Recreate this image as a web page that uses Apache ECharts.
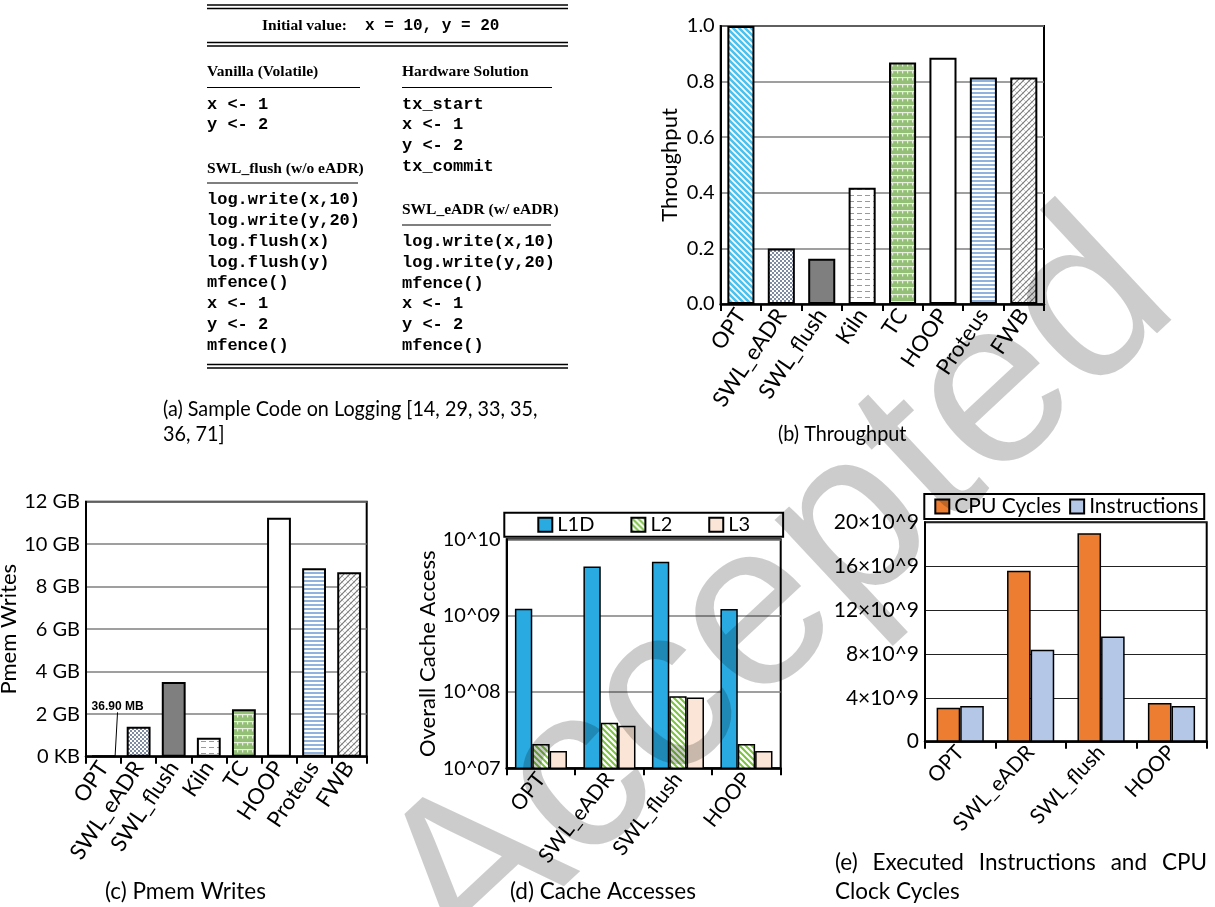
<!DOCTYPE html>
<html><head><meta charset="utf-8">
<script src="https://cdn.jsdelivr.net/npm/echarts@6/dist/echarts.min.js"></script>
<style>html,body{margin:0;padding:0;background:#fff}#c{width:1215px;height:907px}</style>
</head><body><div id="c"></div><script>
// ---------- data ----------
const systems = ['OPT','SWL_eADR','SWL_flush','Kiln','TC','HOOP','Proteus','FWB'];
const throughput = [1.0, 0.20, 0.163, 0.418, 0.869, 0.886, 0.815, 0.815];
const pmemWritesGB = [0.036, 1.41, 3.51, 0.89, 2.23, 11.25, 8.87, 8.68];
const pmemOptLabel = '36.90 MB';
const cacheCats = ['OPT','SWL_eADR','SWL_flush','HOOP'];
const l1dAccess = [1.23e9, 4.41e9, 5.08e9, 1.22e9];
const l2Access = [2.08e7, 3.95e7, 8.8e7, 2.08e7];
const l3Access = [1.68e7, 3.6e7, 8.47e7, 1.68e7];
const cpuCategories = ['OPT','SWL_eADR','SWL_flush','HOOP'];
const cpuCycles = [3.1, 15.59, 19.0, 3.53];      // x10^9
const instructions = [3.25, 8.39, 9.6, 3.25];    // x10^9

// sample code panel text
const headerLabel = 'Initial value:';
const headerCode = 'x = 10, y = 20';
const vanillaTitle = 'Vanilla (Volatile)';
const vanillaCode = ['x <- 1','y <- 2'];
const hwTitle = 'Hardware Solution';
const hwCode = ['tx_start','x <- 1','y <- 2','tx_commit'];
const flushTitle = 'SWL_flush (w/o eADR)';
const flushCode = ['log.write(x,10)','log.write(y,20)','log.flush(x)','log.flush(y)','mfence()','x <- 1','y <- 2','mfence()'];
const eadrTitle = 'SWL_eADR (w/ eADR)';
const eadrCode = ['log.write(x,10)','log.write(y,20)','mfence()','x <- 1','y <- 2','mfence()'];
const captions = {
  a1: '(a) Sample Code on Logging [14, 29, 33, 35,', a2: '36, 71]',
  b: '(b) Throughput', c: '(c) Pmem Writes', d: '(d) Cache Accesses',
  e1: '(e) Executed Instructions and CPU', e2: 'Clock Cycles'
};
const watermark = 'Accepted';

// ---------- patterns ----------
function pat(w, h, draw){ const c=document.createElement('canvas'); c.width=w; c.height=h; const x=c.getContext('2d'); draw(x,w,h); return {image:c, repeat:'repeat'}; }
function diag(ctx, w, color, lw, back){
  ctx.strokeStyle=color; ctx.lineWidth=lw; ctx.beginPath();
  for (let k=-1;k<=1;k++){
    if(back){ ctx.moveTo(k*w-1,-1); ctx.lineTo(k*w+w+1,w+1); }
    else { ctx.moveTo(k*w-1,w+1); ctx.lineTo(k*w+w+1,-1); }
  }
  ctx.stroke();
}
const P = {
  opt: pat(6,6,(c,w)=>{c.fillStyle='#4CC1EE';c.fillRect(0,0,w,w);diag(c,w,'#fff',1.6,true);}),
  eadr: pat(4,4,(c)=>{c.fillStyle='#fff';c.fillRect(0,0,4,4);c.fillStyle='#7D8BA3';c.fillRect(0,0,2,2);c.fillRect(2,2,2,2);}),
  flush: '#7F7F7F',
  kiln: pat(8,6,(c)=>{c.fillStyle='#fff';c.fillRect(0,0,8,6);c.fillStyle='#9a9a9a';c.fillRect(1,3,5,1);}),
  tc: pat(10,7,(c)=>{c.fillStyle='#93C076';c.fillRect(0,0,10,7);c.fillStyle='#E6F0DC';c.fillRect(0,0,10,1.2);c.fillRect(2,0,1.2,3.5);c.fillRect(7,0,1.2,3.5);}),
  hoop: '#ffffff',
  proteus: pat(4,4,(c)=>{c.fillStyle='#fff';c.fillRect(0,0,4,4);c.fillStyle='#8DB3DE';c.fillRect(0,0,4,2);}),
  fwb: pat(6,6,(c,w)=>{c.fillStyle='#fff';c.fillRect(0,0,w,w);diag(c,w,'#c4c4c4',0.8,true);diag(c,w,'#777',1.1,false);}),
  l2: pat(6,6,(c,w)=>{c.fillStyle='#fff';c.fillRect(0,0,w,w);diag(c,w,'#7DC243',2,true);})
};
const sysFill = [P.opt,P.eadr,P.flush,P.kiln,P.tc,P.hoop,P.proteus,P.fwb];

// ---------- shared styles ----------
const F = 'Lato';
const lab = (size)=>({color:'#000', fontFamily:F, fontSize:size});
function xAx(gi, data, rot, fs){
  return {type:'category', gridIndex:gi, data,
    axisLine:{lineStyle:{color:'#000', width:2.5}},
    axisTick:{show:true, length:7, lineStyle:{color:'#000', width:2}},
    axisLabel:Object.assign({rotate:rot, margin:7, interval:0}, lab(fs))};
}
function yAx(gi, extra){
  return Object.assign({type:'value', gridIndex:gi,
    axisLine:{show:true, lineStyle:{color:'#000', width:2}},
    axisTick:{show:false},
    splitLine:{lineStyle:{color:'#7f7f7f', width:1.5}},
    nameLocation:'middle', nameTextStyle:lab(22)}, extra);
}
const gridBase = {show:true, borderColor:'#000', borderWidth:2, backgroundColor:'transparent', containLabel:false, outerBoundsMode:'none'};

// ---------- graphic: sample code panel & captions ----------
const G = [];
function hline(x1,x2,y,lw){ G.push({type:'line', shape:{x1,y1:y,x2,y2:y}, style:{stroke:'#000', lineWidth:lw||1.3}}); }
function txt(s,x,y,font,extra){ G.push(Object.assign({type:'text', x, y, style:Object.assign({text:s, font, fill:'#000', textAlign:'left', textVerticalAlign:'middle', verticalAlign:'middle'}, (extra&&extra.style)||{})}, (extra&&extra.el)||{})); }
const serifB = 'bold 15.5px "Liberation Serif"';
const mono = 'bold 17px "Liberation Mono"';
hline(207,568,5); hline(207,568,8.5);
txt(headerLabel,262,26,serifB); txt(headerCode,365,26,'bold 16px "Liberation Mono"');
hline(207,568,42.5); hline(207,568,46);
txt(vanillaTitle,207,71.5,serifB); hline(207,360,87.5,1.2);
txt(hwTitle,402,71.5,serifB); hline(402,552,87.5,1.2);
vanillaCode.forEach((s,i)=>txt(s,207,104.3+i*20.8,mono));
hwCode.forEach((s,i)=>txt(s,402,104.3+i*20.8,mono));
txt(flushTitle,207,168.5,serifB); hline(207,358,183,1.2);
flushCode.forEach((s,i)=>txt(s,207,200+i*20.8,mono));
txt(eadrTitle,402,210,serifB); hline(402,551,225,1.2);
eadrCode.forEach((s,i)=>txt(s,402,241.7+i*20.8,mono));
hline(207,568,364.5); hline(207,568,368);
const capTop = '22px Lato';
txt(captions.a1,163,409,capTop,{el:{scaleX:0.9}});
txt(captions.a2,163,434,capTop,{el:{scaleX:0.9}});
txt(captions.b,778,434,capTop,{el:{scaleX:0.9}});
const capBot = '22.5px Lato';
txt(captions.c,105,892,capBot);
txt(captions.d,510,892,capBot);
// justified first line of caption (e)
(function(){
  const ctx = document.createElement('canvas').getContext('2d'); ctx.font = capBot;
  const words = captions.e1.split(' '); const x0 = 835, x1 = 1207;
  const ws = words.map(w=>ctx.measureText(w).width); const tot = ws.reduce((a,b)=>a+b,0);
  const gap = (x1-x0-tot)/(words.length-1); let x = x0;
  words.forEach((w,i)=>{ txt(w,x,863,capBot); x += ws[i]+gap; });
})();
txt(captions.e2,835,892,capBot);
// watermark
G.push({type:'text', x:780, y:596, rotation:43*Math.PI/180, z:100, silent:true,
  style:{text:watermark, font:'235px "Liberation Sans"', fill:'rgba(0,0,0,0.2)', textAlign:'center', textVerticalAlign:'middle', verticalAlign:'middle'}});

// ---------- option ----------
const option = {
  animation:false,
  backgroundColor:'#fff',
  grid:[
    Object.assign({left:720.7, top:26, width:323.3, height:278}, gridBase),
    Object.assign({left:86, top:501.7, width:280.7, height:255}, gridBase),
    Object.assign({left:506.7, top:539.3, width:274, height:229}, gridBase),
    Object.assign({left:925, top:522.3, width:281.7, height:219.4}, gridBase)
  ],
  legend:[
    {data:['L1D','L2','L3'], left:504.3, top:512.7, padding:[2,33], itemGap:36, itemWidth:14, itemHeight:14,
     borderColor:'#000', borderWidth:2, borderRadius:0, textStyle:lab(20), icon:'rect', selectedMode:false},
    {data:['CPU Cycles','Instructions'], left:924.3, top:494, padding:[2,6,2,10], itemGap:8, itemWidth:14, itemHeight:14,
     borderColor:'#000', borderWidth:2, borderRadius:0, textStyle:lab(21), icon:'rect', selectedMode:false}
  ],
  xAxis:[ xAx(0, systems, 56, 22), xAx(1, systems, 56, 22), xAx(2, cacheCats, 52, 21), xAx(3, cpuCategories, 47, 21) ],
  yAxis:[
    yAx(0, {min:0, max:1, interval:0.2, name:'Throughput', nameGap:40,
      axisLabel:Object.assign({formatter:v=>v.toFixed(1), margin:6}, lab(20))}),
    yAx(1, {min:0, max:12, interval:2, name:'Pmem Writes', nameGap:60,
      axisLabel:Object.assign({formatter:v=>v===0?'0 KB':v+' GB', margin:6}, lab(20))}),
    yAx(2, {type:'log', logBase:10, min:1e7, max:1e10, name:'Overall Cache Access', nameGap:64,
      axisLabel:Object.assign({formatter:v=>'10^'+String(Math.round(Math.log10(v))).padStart(2,'0'), margin:6}, lab(20))}),
    yAx(3, {min:0, max:20, interval:4, splitLine:{lineStyle:{color:'#222', width:1}},
      axisLabel:Object.assign({formatter:v=>v===0?'0':v+'×10^9', margin:6}, lab(21))})
  ],
  series:[
    {type:'bar', name:'Throughput', xAxisIndex:0, yAxisIndex:0, barCategoryGap:'33%',
     itemStyle:{borderColor:'#000', borderWidth:2},
     data:throughput.map((v,i)=>({value:v, itemStyle:{color:sysFill[i]}}))},
    {type:'bar', name:'Pmem Writes', xAxisIndex:1, yAxisIndex:1, barCategoryGap:'32%',
     itemStyle:{borderColor:'#000', borderWidth:2},
     labelLayout:(p)=>p.dataIndex===0?{dx:14, dy:-38}:{},
     labelLine:{show:true, lineStyle:{color:'#000', width:1}},
     data:pmemWritesGB.map((v,i)=>({value:v, itemStyle:{color:sysFill[i]},
       label: i===0 ? {show:true, position:'top', formatter:pmemOptLabel, color:'#000', fontFamily:'Liberation Sans', fontWeight:'bold', fontSize:12} : {show:false}}))},
    {type:'bar', name:'L1D', xAxisIndex:2, yAxisIndex:2, barGap:'0%', barCategoryGap:'24%',
     itemStyle:{color:'#29ABE2', borderColor:'#000', borderWidth:1.5}, data:l1dAccess},
    {type:'bar', name:'L2', xAxisIndex:2, yAxisIndex:2, barGap:'0%', barCategoryGap:'24%',
     itemStyle:{color:P.l2, borderColor:'#000', borderWidth:1.5}, data:l2Access},
    {type:'bar', name:'L3', xAxisIndex:2, yAxisIndex:2, barGap:'0%', barCategoryGap:'24%',
     itemStyle:{color:'#FBE5D6', borderColor:'#000', borderWidth:1.5}, data:l3Access},
    {type:'bar', name:'CPU Cycles', xAxisIndex:3, yAxisIndex:3, barGap:'0%', barCategoryGap:'33%',
     itemStyle:{color:'#ED7D31', borderColor:'#000', borderWidth:1.5}, data:cpuCycles},
    {type:'bar', name:'Instructions', xAxisIndex:3, yAxisIndex:3, barGap:'0%', barCategoryGap:'33%',
     itemStyle:{color:'#B4C7E7', borderColor:'#000', borderWidth:1.5}, data:instructions}
  ],
  graphic:G
};
const chart = echarts.init(document.getElementById('c'), null, {renderer:'canvas'});
chart.setOption(option);
</script></body></html>
